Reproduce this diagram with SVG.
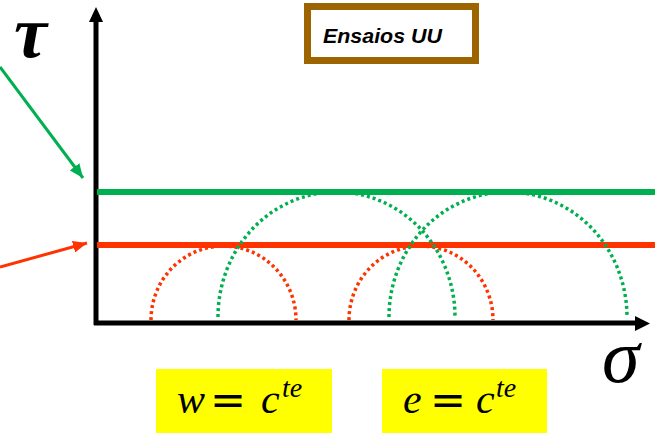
<svg xmlns="http://www.w3.org/2000/svg" width="655" height="435" viewBox="0 0 655 435">
<style>
.axis{stroke:#000;stroke-width:5;fill:none}
.arc-g{stroke:#00B050;stroke-width:3.5;stroke-dasharray:3 3;fill:none}
.arc-r{stroke:#FF3300;stroke-width:3.5;stroke-dasharray:3 3;fill:none}
.math{font-family:"Liberation Serif","DejaVu Serif",serif;font-style:italic;fill:#000}
.eq{font-family:"DejaVu Sans","Liberation Sans",sans-serif;font-size:43px;fill:#000}
</style>
<defs>
<marker id="mg" viewBox="0 0 14 12" refX="14" refY="6" markerWidth="14" markerHeight="12" markerUnits="userSpaceOnUse" orient="auto"><path d="M0,0 L14,6 L0,12 z" fill="#00B050"/></marker>
<marker id="mr" viewBox="0 0 14 12" refX="14" refY="6" markerWidth="14" markerHeight="12" markerUnits="userSpaceOnUse" orient="auto"><path d="M0,0 L14,6 L0,12 z" fill="#FF3300"/></marker>
</defs>
<rect width="655" height="435" fill="#fff"/>
<g id="axes">
<line class="axis" x1="96" y1="325" x2="96" y2="20"/>
<polygon points="89,22 96,7 103,22" fill="#000"/>
<line class="axis" x1="94" y1="323" x2="637" y2="323"/>
<polygon points="635,316 650,323.5 635,331" fill="#000"/>
</g>
<g id="envelopes">
<line x1="97" y1="192" x2="655" y2="192" stroke="#00B050" stroke-width="6"/>
<line x1="97" y1="245" x2="655" y2="245" stroke="#FF3300" stroke-width="6"/>
</g>
<g id="circles">
<path class="arc-r" d="M151 320 A72.5 74 0 0 1 296 320"/>
<path class="arc-r" d="M349 320 A72 74 0 0 1 493 320"/>
<path class="arc-g" d="M218 317 A118.5 125 0 0 1 455 317"/>
<path class="arc-g" d="M389 317 A119 125 0 0 1 627 317"/>
</g>
<g id="connectors">
<line x1="0" y1="67" x2="83" y2="178" stroke="#00B050" stroke-width="3" marker-end="url(#mg)"/>
<line x1="0" y1="267" x2="87" y2="243" stroke="#FF3300" stroke-width="3" marker-end="url(#mr)"/>
</g>
<g id="tau"><text class="math" x="14" y="57" font-size="74" font-weight="bold">τ</text></g>
<g id="sigma"><text class="math" x="602" y="382" font-size="76">σ</text></g>
<g id="title">
<rect x="307.5" y="6.5" width="168" height="54" fill="#fff" stroke="#9C6500" stroke-width="7"/>
<text x="323" y="43" font-family="'Liberation Sans',Arial,sans-serif" font-size="20" font-weight="bold" font-style="italic" textLength="119" lengthAdjust="spacingAndGlyphs">Ensaios UU</text>
</g>
<g id="eq-w">
<rect x="156" y="369" width="176" height="64" fill="#FFFF00"/>
<text class="math" x="177" y="413" font-size="42">w</text>
<text class="eq" x="210" y="414">=</text>
<text class="math" x="261" y="413" font-size="42">c</text>
<text class="math" x="282" y="397" font-size="28">te</text>
</g>
<g id="eq-e">
<rect x="382" y="369" width="165" height="64" fill="#FFFF00"/>
<text class="math" x="403" y="413" font-size="42">e</text>
<text class="eq" x="430" y="414">=</text>
<text class="math" x="476" y="413" font-size="42">c</text>
<text class="math" x="496" y="397" font-size="28">te</text>
</g>
</svg>
